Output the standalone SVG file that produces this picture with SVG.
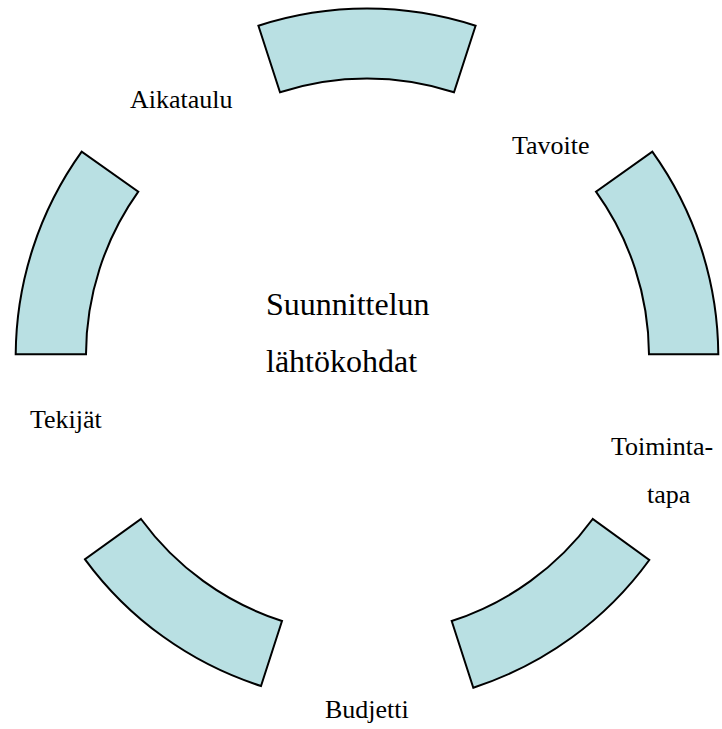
<svg xmlns="http://www.w3.org/2000/svg" width="722" height="729" viewBox="0 0 722 729">
<style>
.seg{fill:#B9E0E3;stroke:#000;stroke-width:2;stroke-linejoin:miter}
.lbl{font-family:"Liberation Serif","Times New Roman",serif;font-size:26px;fill:#000}
.ctr{font-family:"Liberation Serif","Times New Roman",serif;font-size:32px;fill:#000}
</style>
<rect width="722" height="729" fill="#fff"/>
<g id="center"><text class="ctr" x="266" y="315">Suunnittelun</text><text class="ctr" x="266" y="372">lähtökohdat</text></g>
<g id="seg-top"><path class="seg" d="M258.4,25.7 A351.5,351.5 0 0 1 475.6,25.7 L454,92.3 A281.5,281.5 0 0 0 280,92.3 Z"/></g>
<g id="seg-right"><path class="seg" d="M652.3,151.7 A351.5,351.5 0 0 1 718.3,354.3 L649,354.3 A281.5,281.5 0 0 0 596,191.7 Z"/></g>
<g id="seg-bottom-right"><path class="seg" d="M649.3,560 A351.5,351.5 0 0 1 473.3,687.7 L451.7,621 A281.5,281.5 0 0 0 592.7,519 Z"/></g>
<g id="seg-bottom-left"><path class="seg" d="M261,686 A351.5,351.5 0 0 1 85,559.3 L141,519 A281.5,281.5 0 0 0 282,621 Z"/></g>
<g id="seg-left"><path class="seg" d="M15.7,354.3 A351.5,351.5 0 0 1 81.7,151.7 L138.3,191.7 A281.5,281.5 0 0 0 86,354.3 Z"/></g>
<g id="label-aikataulu"><text class="lbl" x="130" y="108">Aikataulu</text></g>
<g id="label-tavoite"><text class="lbl" x="512" y="154">Tavoite</text></g>
<g id="label-toimintatapa"><text class="lbl" x="611" y="455">Toiminta-</text><text class="lbl" x="647" y="503">tapa</text></g>
<g id="label-budjetti"><text class="lbl" x="325" y="718">Budjetti</text></g>
<g id="label-tekijat"><text class="lbl" x="30" y="428">Tekijät</text></g>
</svg>
